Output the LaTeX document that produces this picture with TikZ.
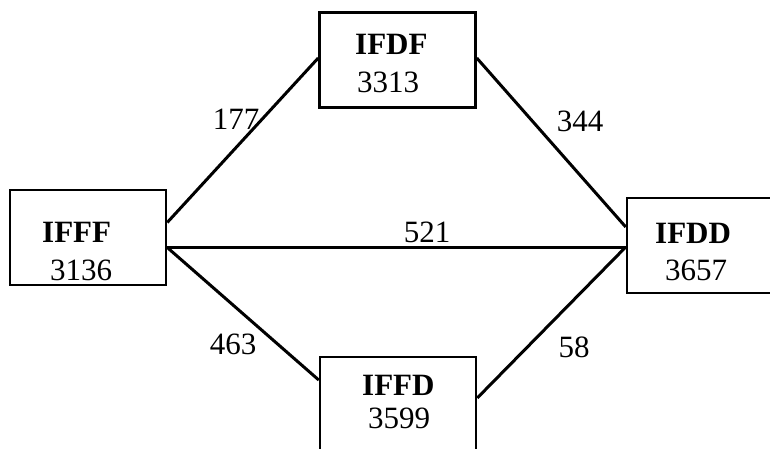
\documentclass[tikz,border=0pt]{standalone}
\usepackage{fontspec}
\setmainfont{Liberation Serif}
\begin{document}
\begin{tikzpicture}[x=1pt,y=-1pt]
        \tikzset{
            box/.style={draw, line width=2.5pt, minimum width=156pt, minimum height=95pt, inner sep=0pt},
            link/.style={line width=3pt},
            txt/.style={font=\fontsize{31}{37}\selectfont, inner sep=0pt, anchor=base west},
            wt/.style={font=\fontsize{31}{37}\selectfont, inner sep=0pt}
        }
        \useasboundingbox (0,0) rectangle (770,449);
        \clip (0,0) rectangle (770,449);
        % the four states
        \node[box] (ifdf) at (397.5,60) {};
        \node[box] (ifff) at (88,237.5) {};
        \node[box] (ifdd) at (705,245.5) {};
        \node[box] (iffd) at (398,404.5) {};
        \node[txt] (ifdf-n) at (355,55) {\textbf{IFDF}};
        \node[txt] (ifdf-v) at (357,93) {3313};
        \node[txt] (ifff-n) at (42,242) {\textbf{IFFF}};
        \node[txt] (ifff-v) at (50,280) {3136};
        \node[txt] (ifdd-n) at (655,243) {\textbf{IFDD}};
        \node[txt] (ifdd-v) at (665,280) {3657};
        \node[txt] (iffd-n) at (362,395) {\textbf{IFFD}};
        \node[txt] (iffd-v) at (368,428) {3599};
        % links
        \draw[link] ([yshift=15pt]ifff.east) -- ([yshift=2pt]ifdf.west);
        \draw[link] ([yshift=-10pt]ifff.east) -- ([yshift=-10pt]ifff.east -| ifdd.west);
        \draw[link] ([yshift=-10pt]ifff.east) -- ([yshift=24.5pt]iffd.west);
        \draw[link] ([yshift=2pt]ifdf.east) -- ([yshift=18.5pt]ifdd.west);
        \draw[link] ([yshift=6.5pt]iffd.east) -- ([yshift=-1.5pt]ifdd.west);
        \node[wt] (w177) at (236,119) {177};
        \node[wt] (w344) at (580,121) {344};
        \node[wt] (w521) at (427,232) {521};
        \node[wt] (w463) at (233,344) {463};
        \node[wt] (w58) at (574,347) {58};
\end{tikzpicture}
\end{document}
